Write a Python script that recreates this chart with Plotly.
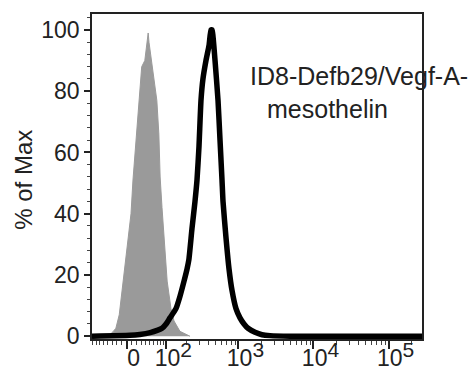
import numpy as np
import plotly.graph_objects as go

# Fluorescence intensity (linear units) and % of Max
gray_x = [-47, -35, -28, -22, -15, -7, 1, 8.6, 12.6, 18.8, 25, 29, 31, 38, 43, 46, 48, 51, 56, 64,
          69, 75, 79, 85, 92, 103, 118, 131, 160, 195, 222]
gray_y = [0, 0.5, 1.5, 2.6, 7, 18, 29, 40, 51, 64, 77, 85, 88, 90, 95, 99, 96, 93, 87, 81,
          77, 66, 52, 42, 32, 18, 9, 5, 1.6, 0.5, 0]

black_x = [-83, 6.6, 27, 51, 72, 85, 99, 114, 140, 160, 183, 202, 214, 236, 260, 277, 295, 314, 334, 367,
           404, 429, 443, 456, 486, 533, 567, 603, 622, 683, 748, 820, 928, 1049, 1187, 1342, 1663, 2061,
           2636, 4868, 279000]
black_y = [0, 0.3, 0.6, 1.2, 2, 2.6, 4, 6, 9, 13, 18, 22, 25, 35, 44, 51, 62, 77, 84, 90,
           95, 100, 100, 98, 90, 77, 64, 51, 44, 32, 22, 15, 9, 6, 4, 2.6, 1.3, 0.5, 0.2, 0, 0]

x_tick_values = [0, 100, 1000, 10000, 100000]
x_tick_labels = ["0"] + ["10<sup><span style='font-size:21px'>%d</span></sup>" % e for e in (2, 3, 4, 5)]
x_minor_values = ([-80, -70, -60, -50, -40, -30, -20, -10] + list(range(10, 100, 10))
                  + list(range(200, 1000, 100)) + list(range(2000, 10000, 1000))
                  + list(range(20000, 100000, 10000)) + [200000])
x_limits = [-83, 279000]
y_tick_values = [0, 20, 40, 60, 80, 100]

label_line1 = "ID8-Defb29/Vegf-A-"
label_line2 = "mesothelin"

COF = 65.0


def tr(v):
    return np.arcsinh(np.asarray(v, dtype=float) / COF)


FONT = "Liberation Sans, Arial, sans-serif"

fig = go.Figure()
fig.add_trace(go.Scatter(x=tr(gray_x), y=gray_y, mode="lines", fill="tozeroy",
                         line=dict(color="#9a9a9a", width=1), fillcolor="#9a9a9a",
                         hoverinfo="skip", showlegend=False))
fig.add_trace(go.Scatter(x=tr(black_x), y=black_y, mode="lines",
                         line=dict(color="black", width=5.5, shape="spline", smoothing=0.5),
                         hoverinfo="skip", showlegend=False))

fig.update_layout(
    width=470, height=369,
    margin=dict(l=92, r=48, t=14, b=30),
    paper_bgcolor="white", plot_bgcolor="white",
    font=dict(family=FONT, size=23, color="#222"),
    showlegend=False,
)
fig.update_xaxes(
    range=list(tr(x_limits)), showgrid=False, zeroline=False, automargin=False,
    showline=True, linecolor="#222", linewidth=1.5, mirror=True,
    tickmode="array", tickvals=list(tr(x_tick_values)), ticktext=x_tick_labels,
    ticks="outside", ticklen=8, tickwidth=1.5, tickcolor="#222",
    ticklabelshift=7, ticklabelstandoff=-10,
    minor=dict(tickmode="array", tickvals=list(tr(x_minor_values)), ticks="outside",
               ticklen=4, tickwidth=1, tickcolor="#444"),
    tickfont=dict(family=FONT, size=23, color="#222"),
)
fig.update_yaxes(
    range=[-0.9, 105.2], showgrid=False, zeroline=False, automargin=False,
    showline=True, linecolor="#222", linewidth=1.5, mirror=True,
    tickmode="array", tickvals=y_tick_values,
    ticks="outside", ticklen=6, tickwidth=1.5, tickcolor="#222",
    minor=dict(dtick=4, tick0=0, ticks="outside", ticklen=3, tickwidth=1, tickcolor="#444"),
    tickfont=dict(family=FONT, size=23, color="#222"),
)

fig.add_annotation(text="% of Max", xref="paper", yref="paper", x=(24 - 92) / 330, y=0.49,
                   xanchor="center", yanchor="middle", textangle=-90, showarrow=False,
                   font=dict(family=FONT, size=24, color="#222"))
fig.add_annotation(text=label_line1, xref="paper", yref="paper", x=(248 - 92) / 330, y=(339 - 76) / 325,
                   xanchor="left", yanchor="middle", showarrow=False,
                   font=dict(family=FONT, size=25, color="#222"))
fig.add_annotation(text=label_line2, xref="paper", yref="paper", x=(265 - 92) / 330, y=(339 - 109) / 325,
                   xanchor="left", yanchor="middle", showarrow=False,
                   font=dict(family=FONT, size=25, color="#222"))

fig.write_html("out.html")
